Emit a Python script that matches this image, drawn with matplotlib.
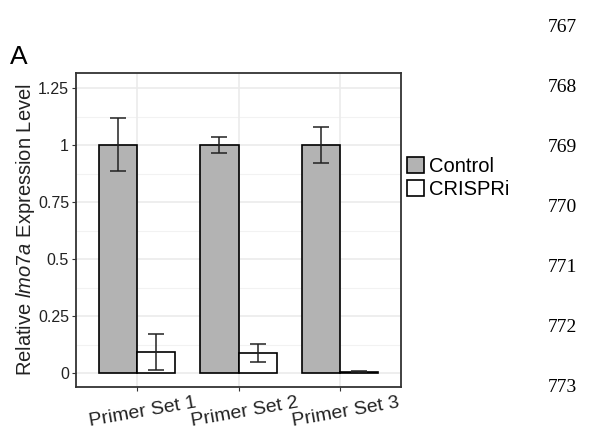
import matplotlib
matplotlib.use("Agg")
import matplotlib.pyplot as plt
import matplotlib.transforms as mtransforms
import numpy as np

# data
primer_sets = ["Primer Set 1", "Primer Set 2", "Primer Set 3"]
control = [1.002, 1.0, 1.0]
control_err = [0.115, 0.035, 0.079]
crispri = [0.092, 0.088, 0.004]
crispri_err = [0.079, 0.040, 0.003]
y_ticks = [0, 0.25, 0.5, 0.75, 1, 1.25]
y_ticklabels = ["0", "0.25", "0.5", "0.75", "1", "1.25"]
line_numbers = ["767", "768", "769", "770", "771", "772", "773"]

plt.rcParams["font.family"] = ["Liberation Sans", "DejaVu Sans"]
plt.rcParams["mathtext.fontset"] = "custom"
plt.rcParams["mathtext.rm"] = "Liberation Sans"
plt.rcParams["mathtext.it"] = "Liberation Sans:italic"

fig = plt.figure(figsize=(5.92, 4.3), dpi=100)
ax = fig.add_axes([76/592, 1 - 387/430, 325/592, 314/430])

x = np.arange(1, len(primer_sets) + 1)
w = 0.375

# grid like ggplot theme_bw
for v in np.arange(0.125, 1.3, 0.25):
    ax.axhline(v, color="#F2F2F2", lw=0.8, zorder=0)
for v in y_ticks:
    ax.axhline(v, color="#EBEBEB", lw=1.2, zorder=0)
for v in x:
    ax.axvline(v, color="#EBEBEB", lw=1.2, zorder=0)

ax.bar(x - w/2, control, w, color="#B3B3B3", edgecolor="black", lw=1.2,
       label="Control", zorder=2)
ax.bar(x + w/2, crispri, w, color="white", edgecolor="black", lw=1.2,
       label="CRISPRi", zorder=2)
ax.errorbar(x - w/2, control, yerr=control_err, fmt="none", ecolor="#222222",
            elinewidth=1.1, capsize=5.8, capthick=1.1, zorder=3)
ax.errorbar(x + w/2, crispri, yerr=crispri_err, fmt="none", ecolor="#222222",
            elinewidth=1.1, capsize=5.8, capthick=1.1, zorder=3)

ax.set_xlim(0.4, 3.6)
ax.set_ylim(-0.061, 1.316)
ax.set_yticks(y_ticks)
ax.set_yticklabels(y_ticklabels, fontsize=11.5, color="#222222")
ax.set_xticks(x)
ax.set_xticklabels(primer_sets, fontsize=14, rotation=10, ha="center",
                   color="#222222")
ax.tick_params(length=3, width=0.8, color="#333333", pad=2)
ax.tick_params(axis="x", pad=0)
shift = mtransforms.ScaledTranslation(6/100, -3/100, fig.dpi_scale_trans)
for lab in ax.get_xticklabels():
    lab.set_transform(lab.get_transform() + shift)

for s in ax.spines.values():
    s.set_color("#333333")
    s.set_linewidth(1.3)

ax.set_ylabel(r"Relative $\it{lmo7a}$ Expression Level", fontsize=14.5,
              color="#222222")
ax.yaxis.set_label_coords(-0.12, 0.5)

fig.legend(loc="upper left", bbox_to_anchor=(407/592, 1 - 157/430),
           frameon=False, fontsize=14.5, handlelength=0.85, handleheight=0.85,
           handletextpad=0.25, labelspacing=0.2, borderpad=0, borderaxespad=0)

fig.text(10/592, 1 - 64/430, "A", fontsize=19, ha="left", va="baseline")

for i, n in enumerate(line_numbers):
    fig.text(548/592, 1 - (27 + 60*i)/430, n, fontsize=14,
             family="Liberation Serif", ha="left", va="center")

fig.savefig("out.png", dpi=100)
